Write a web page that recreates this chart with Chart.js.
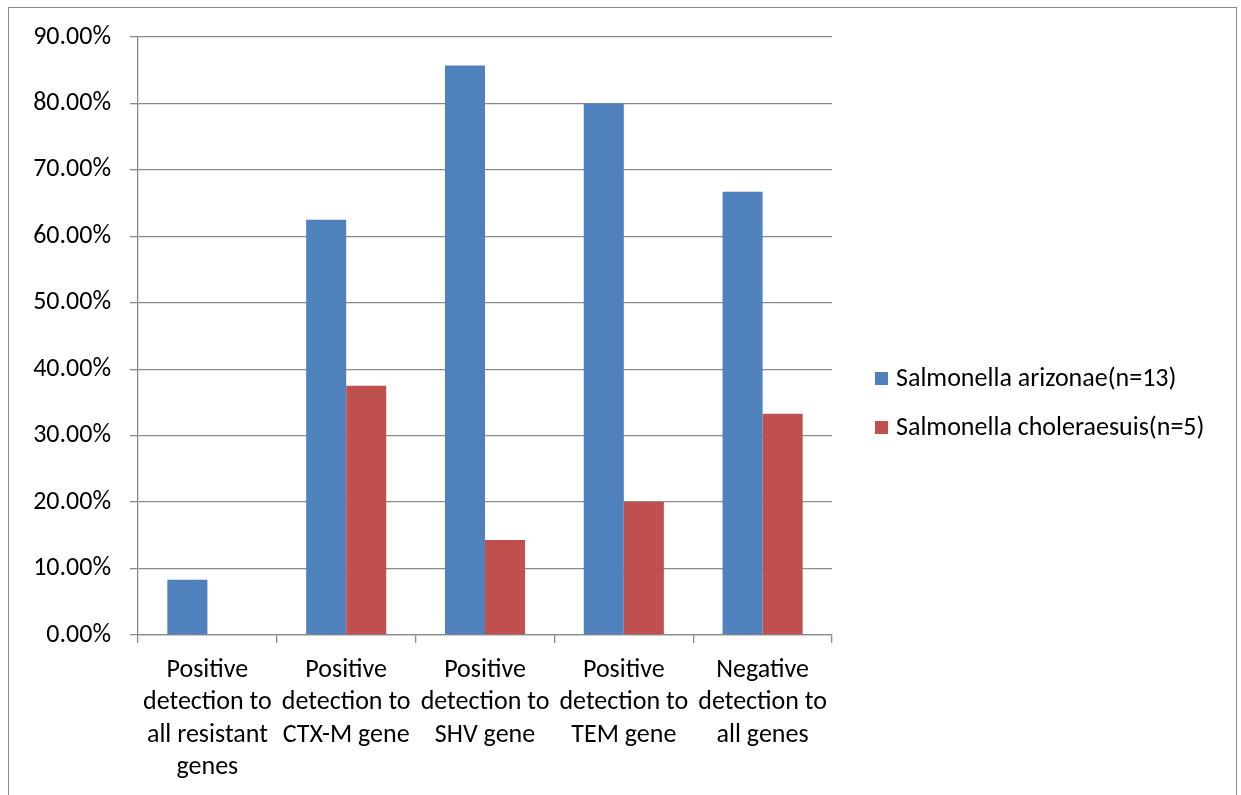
<!DOCTYPE html>
<html>
<head>
<meta charset="utf-8">
<script src="https://cdn.jsdelivr.net/npm/chart.js@4.4.1/dist/chart.umd.min.js"></script>
<style>
  html, body { margin: 0; padding: 0; background: #fff; overflow: hidden; }
  #frame {
    position: absolute; left: 8px; top: 7px; width: 1229px; height: 820px;
    border: 1.5px solid #8c8c8c; box-sizing: border-box;
  }
  #wrap { position: absolute; left: 0; top: 0; width: 1241px; height: 795px; }
</style>
</head>
<body>
<div id="frame"></div>
<div id="wrap"><canvas id="chart" width="1241" height="795"></canvas></div>
<script>
// categories (multi-line axis labels)
const categories = [
    ['Positive', 'detection to', 'all resistant', 'genes'],
    ['Positive', 'detection to', 'CTX-M gene'],
    ['Positive', 'detection to', 'SHV gene'],
    ['Positive', 'detection to', 'TEM gene'],
    ['Negative', 'detection to', 'all genes']
];
const seriesNames = ['Salmonella arizonae(n=13)', 'Salmonella choleraesuis(n=5)'];
const arizonae = [0.0833, 0.625, 0.857, 0.80, 0.667];
const choleraesuis = [0, 0.375, 0.143, 0.20, 0.333];
const seriesColors = ['#4F81BD', '#C0504D'];

const FONT = 'Carlito, Calibri, Lato, sans-serif';
const GRID = '#8a8a8a';

// legend on the right, drawn by hand to sit like the office chart legend
const sideLegend = {
    id: 'sideLegend',
    afterDraw(chart) {
        const ctx = chart.ctx;
        ctx.save();
        ctx.font = '26px ' + FONT;
        ctx.textBaseline = 'middle';
        ctx.textAlign = 'left';
        chart.data.datasets.forEach((ds, i) => {
            const y = 379 + i * 49;
            ctx.fillStyle = ds.backgroundColor;
            ctx.fillRect(875, y - 7, 13, 13);
            ctx.fillStyle = '#000';
            ctx.fillText(ds.label, 896, y);
        });
        ctx.restore();
    }
};

new Chart(document.getElementById('chart'), {
    type: 'bar',
    data: {
        labels: categories,
        datasets: [
            { label: seriesNames[0], data: arizonae, backgroundColor: seriesColors[0] },
            { label: seriesNames[1], data: choleraesuis, backgroundColor: seriesColors[1] }
        ]
    },
    options: {
        responsive: false,
        animation: false,
        datasets: { bar: { barPercentage: 1.0, categoryPercentage: 0.577 } },
        layout: { padding: { left: 0, right: 409, top: 37, bottom: 0 } },
        plugins: {
            legend: { display: false },
            tooltip: { enabled: false }
        },
        scales: {
            x: {
                grid: { offset: true, drawOnChartArea: false, tickLength: 8, color: GRID, lineWidth: 1.3 },
                border: { color: GRID, width: 1.3 },
                ticks: {
                    color: '#000', font: { family: FONT, size: 26, lineHeight: 1.25 },
                    padding: 11, maxRotation: 0, autoSkip: false
                },
                afterFit(scale) { scale.height = 160; }
            },
            y: {
                min: 0, max: 0.9,
                grid: { color: GRID, lineWidth: 1.3, tickLength: 8 },
                border: { color: GRID, width: 1.3 },
                ticks: {
                    stepSize: 0.1, color: '#000', padding: 19,
                    font: { family: FONT, size: 26 },
                    callback: v => (v * 100).toFixed(2) + '%'
                },
                afterFit(scale) { scale.width = 138; }
            }
        }
    },
    plugins: [sideLegend]
});
</script>
</body>
</html>
